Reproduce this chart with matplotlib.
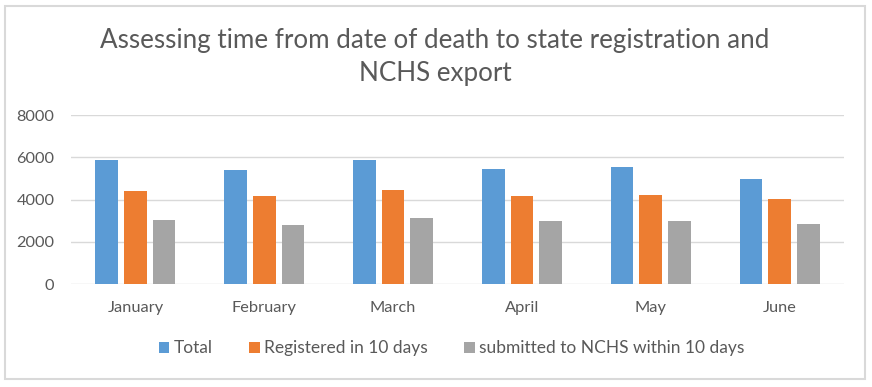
import numpy as np
import matplotlib
matplotlib.use("Agg")
import matplotlib.pyplot as plt
from matplotlib.patches import Rectangle

months = ["January", "February", "March", "April", "May", "June"]
total = [5850, 5400, 5870, 5430, 5540, 4960]
registered = [4390, 4170, 4450, 4170, 4210, 4020]
submitted = [3030, 2780, 3120, 2970, 2970, 2840]

series_names = ["Total", "Registered in 10 days", "submitted to NCHS within 10 days"]
colors = ["#5b9bd5", "#ed7d31", "#a5a5a5"]
txt = "#595959"

plt.rcParams['font.family'] = ['Lato', 'DejaVu Sans']

fig = plt.figure(figsize=(8.72, 3.87), dpi=100)
fig.patches.append(Rectangle((0.006, 0.02), 0.986, 0.965, transform=fig.transFigure,
                             fill=False, edgecolor="#d9d9d9", lw=1.5))

ax = fig.add_axes([0.0814, 0.2661, 0.8865, 0.4367])
x = np.arange(len(months))
w = 0.176
step = 0.222
for i, (vals, name, c) in enumerate(zip([total, registered, submitted], series_names, colors)):
    ax.bar(x + (i - 1) * step, vals, width=w, color=c, label=name, zorder=3)

ax.set_xlim(-0.5, len(months) - 0.5)
ax.set_ylim(0, 8000)
ax.set_yticks(np.arange(0, 8001, 2000))
ax.set_xticks(x)
ax.set_xticklabels(months)
ax.grid(axis="y", color="#d9d9d9", lw=1, zorder=0)
for s in ax.spines.values():
    s.set_visible(False)
ax.tick_params(length=0, labelsize=11.8, colors=txt)
ax.tick_params(axis="x", pad=12)
ax.tick_params(axis="y", pad=12)

fig.text(0.499, 0.853, "Assessing time from date of death to state registration and\nNCHS export",
         ha="center", va="center", fontsize=18.7, color=txt, linespacing=1.4)

fig.legend(loc="center", bbox_to_anchor=(0.518, 0.1), ncol=3, frameon=False,
           fontsize=12.5, labelcolor=txt, handlelength=0.6, handleheight=0.6,
           handletextpad=0.25, columnspacing=2.1)

fig.savefig("out.png", dpi=100)
